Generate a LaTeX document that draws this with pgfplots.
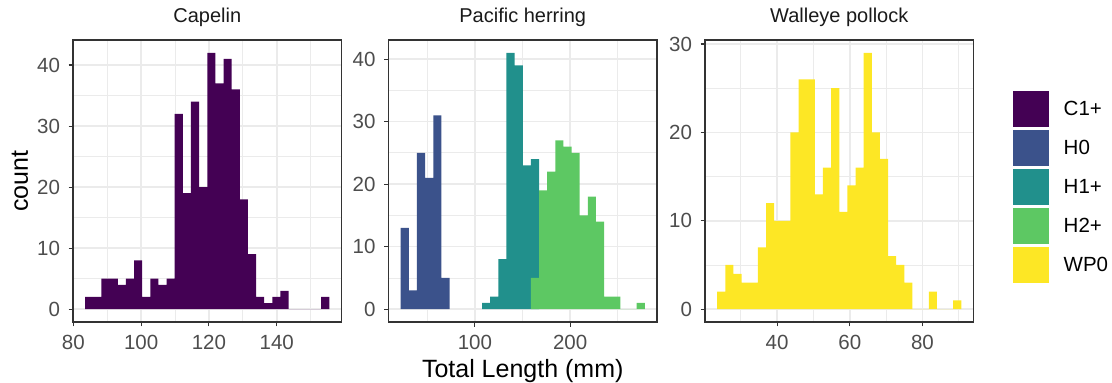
\documentclass[border=0pt]{standalone}
\usepackage{fontspec}
\setmainfont{Liberation Sans}
\usepackage{pgfplots}
\pgfplotsset{compat=1.18}
\definecolor{cC}{HTML}{440154}
\definecolor{cHa}{HTML}{3B528B}
\definecolor{cHb}{HTML}{21908C}
\definecolor{cHc}{HTML}{5DC863}
\definecolor{cW}{HTML}{FDE725}
\definecolor{grey20}{HTML}{333333}
\definecolor{grey30}{HTML}{4D4D4D}
\definecolor{grey92}{HTML}{EBEBEB}
\definecolor{grey10}{HTML}{1A1A1A}
\newcommand\ticksz{\fontsize{20.5}{24}\selectfont}
\newcommand\stripsz{\fontsize{20}{24}\selectfont}
\newcommand\titlesz{\fontsize{25}{30}\selectfont}
\pgfplotsset{
  facet/.style={
    scale only axis, width=268.5pt, height=282pt,
    axis line style={draw=grey20, line width=1.1pt},
    every tick/.style={draw=grey20, line width=1.1pt},
    major tick length=4.5pt, minor tick length=0pt,
    tick align=outside, tick pos=left,
    grid=both,
    major grid style={draw=grey92, line width=1.6pt},
    minor grid style={draw=grey92, line width=0.8pt},
    tick label style={font=\ticksz, text=grey30},
    xticklabel style={yshift=-5pt},
    yticklabel style={xshift=-5pt},
    /pgf/number format/assume math mode=true,
    scaled ticks=false,
    title style={at={(axis description cs:0.5,1)}, anchor=base, yshift=11.7pt, font=\stripsz, text=grey10, inner sep=0pt},
  },
  histbar/.style={ybar interval, draw=none, fill=#1},
}
\begin{document}
\begin{tikzpicture}
\useasboundingbox (0pt,0pt) rectangle (1112pt,383pt);
% Capelin
\begin{axis}[facet, at={(73pt,61pt)}, anchor=south west,
  xmin=79.9, xmax=159.1, ymin=-2.1, ymax=44.1,
  xtick={80,100,120,140}, minor xtick={90,110,130,150},
  ytick={0,10,20,30,40}, minor ytick={5,15,25,35},
  title={Capelin},
  ylabel={count},
  ylabel style={at={(axis description cs:-0.168,0.5)}, anchor=base, font=\titlesz, text=black, inner sep=0pt},
]
\addplot[histbar=cC] coordinates {
(83.5,2) (85.9,2) (88.3,5) (90.7,5) (93.1,4) (95.5,5) (97.9,8) (100.3,2) (102.7,5) (105.1,4)
(107.5,5) (109.9,32) (112.3,19) (114.7,34) (117.1,20) (119.5,42) (121.9,37) (124.3,41) (126.7,36) (129.1,18)
(131.5,9) (133.9,2) (136.3,1) (138.7,2) (141.1,3) (143.5,0) (145.9,0) (148.3,0) (150.7,0) (153.1,2)
(155.5,0)};
\end{axis}
% Pacific herring
\begin{axis}[facet, at={(388.5pt,61pt)}, anchor=south west,
  xmin=9.18, xmax=291.3, ymin=-2.05, ymax=43.05,
  xtick={100,200}, minor xtick={50,150,250},
  ytick={0,10,20,30,40}, minor ytick={5,15,25,35},
  title={Pacific herring},
  xlabel={Total Length (mm)},
  xlabel style={at={(axis description cs:0.5,-0.1961)}, anchor=base, font=\titlesz, text=black, inner sep=0pt},
]
\addplot[histbar=cHa] coordinates {
(22,13) (30.55,3) (39.1,25) (47.65,21) (56.2,31) (64.75,5) (73.3,0)};
% H1+ is stacked on top of H2+; the last bin's top is 5 (H2+) + 19 (H1+) = 24
\addplot[histbar=cHb] coordinates {
(107.5,1) (116.05,2) (124.6,8) (133.15,41) (141.7,39) (150.25,23) (158.8,24) (167.35,0)};
\addplot[histbar=cHc] coordinates {
(158.8,5) (167.35,19) (175.9,22) (184.45,27) (193,26) (201.55,25) (210.1,15) (218.65,18) (227.2,14) (235.75,2)
(244.3,2) (252.85,0) (261.4,0) (269.95,1) (278.5,0)};
\end{axis}
% Walleye pollock
\begin{axis}[facet, at={(705pt,61pt)}, anchor=south west,
  xmin=20.14, xmax=94.06, ymin=-1.45, ymax=30.45,
  xtick={40,60,80}, minor xtick={30,50,70,90},
  ytick={0,10,20,30}, minor ytick={5,15,25},
  title={Walleye pollock},
  legend style={at={(axis description cs:1.146,0.819)}, anchor=north west, draw=none, fill=none,
    inner sep=0pt, outer sep=0pt, row sep=3.3pt, column sep=13pt, font=\ticksz,
    cells={anchor=west}},
  legend image code/.code={\fill[#1] (0pt,-17.85pt) rectangle (36pt,17.85pt);},
]
\addlegendimage{fill=cC, draw=none}\addlegendentry{C1+}
\addlegendimage{fill=cHa, draw=none}\addlegendentry{H0}
\addlegendimage{fill=cHb, draw=none}\addlegendentry{H1+}
\addlegendimage{fill=cHc, draw=none}\addlegendentry{H2+}
\addlegendimage{fill=cW, draw=none}\addlegendentry{WP0}
\addplot[histbar=cW, forget plot] coordinates {
(23.5,2) (25.74,5) (27.98,4) (30.22,3) (32.46,3) (34.7,7) (36.94,12) (39.18,10) (41.42,10) (43.66,20)
(45.9,26) (48.14,26) (50.38,13) (52.62,16) (54.86,25) (57.1,11) (59.34,14) (61.58,16) (63.82,29) (66.06,20)
(68.3,17) (70.54,6) (72.78,5) (75.02,3) (77.26,0) (79.5,0) (81.74,2) (83.98,0) (86.22,0) (88.46,1)
(90.7,0)};
\end{axis}
\end{tikzpicture}
\end{document}
